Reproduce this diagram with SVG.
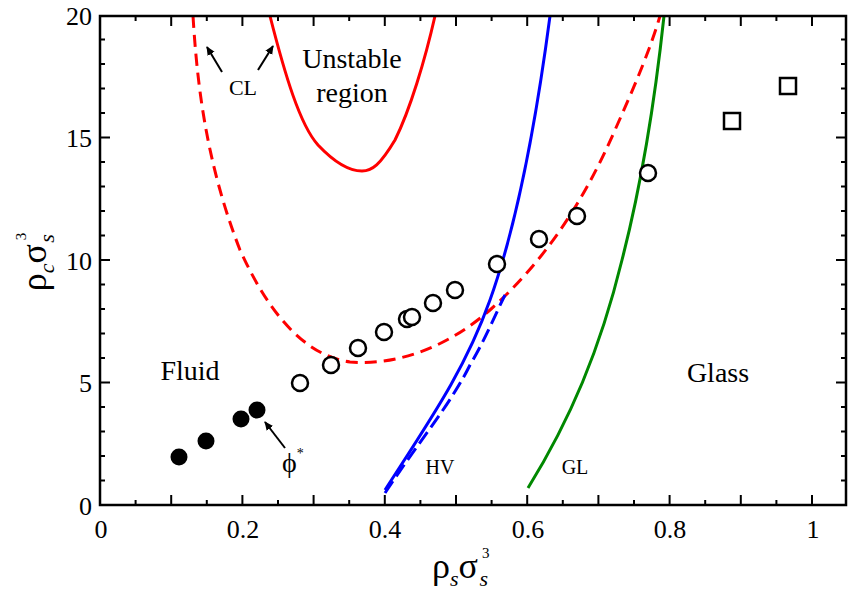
<svg xmlns="http://www.w3.org/2000/svg" width="850" height="597" viewBox="0 0 850 597">
<style>
text{font-family:"Liberation Serif",serif;fill:#000}
.t{font-size:26px}
.tk{stroke:#000;stroke-width:2}
.oc{fill:#fff;stroke:#000;stroke-width:2.5}
</style>
<defs><marker id="ah" markerWidth="10" markerHeight="10" refX="8" refY="5" orient="auto" markerUnits="userSpaceOnUse"><path d="M0,1 L9,5 L0,9 Z" fill="#000"/></marker></defs>
<rect width="850" height="597" fill="#fff"/>
<g id="curves" fill="none" stroke-width="3">
<path d="M270,16 C285,75 300,125 318,145 C335,163 350,171 362,171 C372,171 380,165 395,140 C410,110 425,60 435,16" stroke="#f00"/>
<path d="M193,16 C197,80 205,160 240,250 C265,305 300,355 350,362 C400,366 450,345 490,310 C540,265 580,210 615,130 C635,85 650,50 660,16" stroke="#f00" stroke-dasharray="12,7"/>
<path d="M385,490 C430,420 465,370 490,300 C515,230 535,130 550,16" stroke="#00f"/>
<path d="M385,493 C420,440 450,405 470,365 C485,340 495,315 505,295" stroke="#00f" stroke-dasharray="14,6"/>
<path d="M528,488 C570,420 600,350 622,260 C640,190 655,100 664,16" stroke="#080"/>
</g>
<g id="points">
<circle cx="179" cy="457" r="8.5"/><circle cx="206" cy="441" r="8.5"/><circle cx="241" cy="419" r="8.5"/><circle cx="257" cy="410" r="8.5"/>
<circle class="oc" cx="300" cy="383" r="8"/><circle class="oc" cx="331" cy="365" r="8"/><circle class="oc" cx="358" cy="348" r="8"/><circle class="oc" cx="384" cy="332" r="8"/><circle class="oc" cx="407" cy="319" r="8"/><circle class="oc" cx="412" cy="317" r="8"/><circle class="oc" cx="433" cy="303" r="8"/><circle class="oc" cx="455" cy="290" r="8"/><circle class="oc" cx="497" cy="264" r="8"/><circle class="oc" cx="539" cy="239" r="8"/><circle class="oc" cx="577" cy="216" r="8"/><circle class="oc" cx="648" cy="173" r="8"/>
<rect class="oc" x="724" y="113" width="16" height="16"/><rect class="oc" x="780" y="78" width="16" height="16"/>
</g>
<g id="axes">
<rect x="100" y="16" width="746" height="489" fill="none" stroke="#000" stroke-width="2.5"/>
<path class="tk" d="M100,505v-10M135.6,505v-5M171.2,505v-10M206.8,505v-5M242.4,505v-10M278,505v-5M313.6,505v-10M349.2,505v-5M384.8,505v-10M420.4,505v-5M456,505v-10M491.6,505v-5M527.2,505v-10M562.8,505v-5M598.4,505v-10M634,505v-5M669.6,505v-10M705.2,505v-5M740.8,505v-10M776.4,505v-5M812,505v-10
M100,16v10M135.6,16v5M171.2,16v10M206.8,16v5M242.4,16v10M278,16v5M313.6,16v10M349.2,16v5M384.8,16v10M420.4,16v5M456,16v10M491.6,16v5M527.2,16v10M562.8,16v5M598.4,16v10M634,16v5M669.6,16v10M705.2,16v5M740.8,16v10M776.4,16v5M812,16v10"/>
<path class="tk" d="M100,480.5h5M100,456h5M100,431.5h5M100,407h5M100,382.5h10M100,358h5M100,333.5h5M100,309h5M100,284.5h5M100,260h10M100,235.5h5M100,211h5M100,186.5h5M100,162h5M100,137.5h10M100,113h5M100,88.5h5M100,64h5M100,39.5h5
M846,480.5h-5M846,456h-5M846,431.5h-5M846,407h-5M846,382.5h-10M846,358h-5M846,333.5h-5M846,309h-5M846,284.5h-5M846,260h-10M846,235.5h-5M846,211h-5M846,186.5h-5M846,162h-5M846,137.5h-10M846,113h-5M846,88.5h-5M846,64h-5M846,39.5h-5"/>
<g class="t" font-size="28" text-anchor="middle">
<text x="101" y="538">0</text><text x="243" y="538">0.2</text><text x="385" y="538">0.4</text><text x="528" y="538">0.6</text><text x="670" y="538">0.8</text><text x="813" y="538">1</text>
</g>
<g class="t" font-size="28" text-anchor="end">
<text x="92" y="515">0</text><text x="92" y="392">5</text><text x="92" y="270">10</text><text x="92" y="147">15</text><text x="92" y="25">20</text>
</g>
<text x="432" y="578" font-size="36">ρ<tspan font-size="22" font-style="italic" dy="8">s</tspan><tspan dy="-8">σ</tspan><tspan font-size="15" dx="4" dy="-20">3</tspan><tspan font-size="22" font-style="italic" dx="-10" dy="28">s</tspan></text>
<text transform="translate(46,262) rotate(-90)" text-anchor="middle" font-size="36">ρ<tspan font-size="22" font-style="italic" dy="8">c</tspan><tspan dy="-8">σ</tspan><tspan font-size="15" dx="4" dy="-20">3</tspan><tspan font-size="22" font-style="italic" dx="-10" dy="28">s</tspan></text>
</g>
<g id="labels" class="t">
<text x="352" y="68" text-anchor="middle" font-size="28">Unstable</text>
<text x="352" y="102" text-anchor="middle" font-size="28">region</text>
<text x="243" y="95" text-anchor="middle" font-size="22">CL</text>
<text x="190" y="380" text-anchor="middle" font-size="28">Fluid</text>
<text x="718" y="382" text-anchor="middle" font-size="28">Glass</text>
<text x="440" y="474" text-anchor="middle" font-size="20">HV</text>
<text x="575" y="474" text-anchor="middle" font-size="20">GL</text>
<text x="282" y="472" font-size="28">ϕ<tspan font-size="14" dy="-14">*</tspan></text>
</g>
<g id="arrows" stroke="#000" stroke-width="2" fill="none">
<path d="M222,72 L207,47" marker-end="url(#ah)"/>
<path d="M258,70 L273,46" marker-end="url(#ah)"/>
<path d="M285,448 L265,422" marker-end="url(#ah)"/>
</g>
</svg>
